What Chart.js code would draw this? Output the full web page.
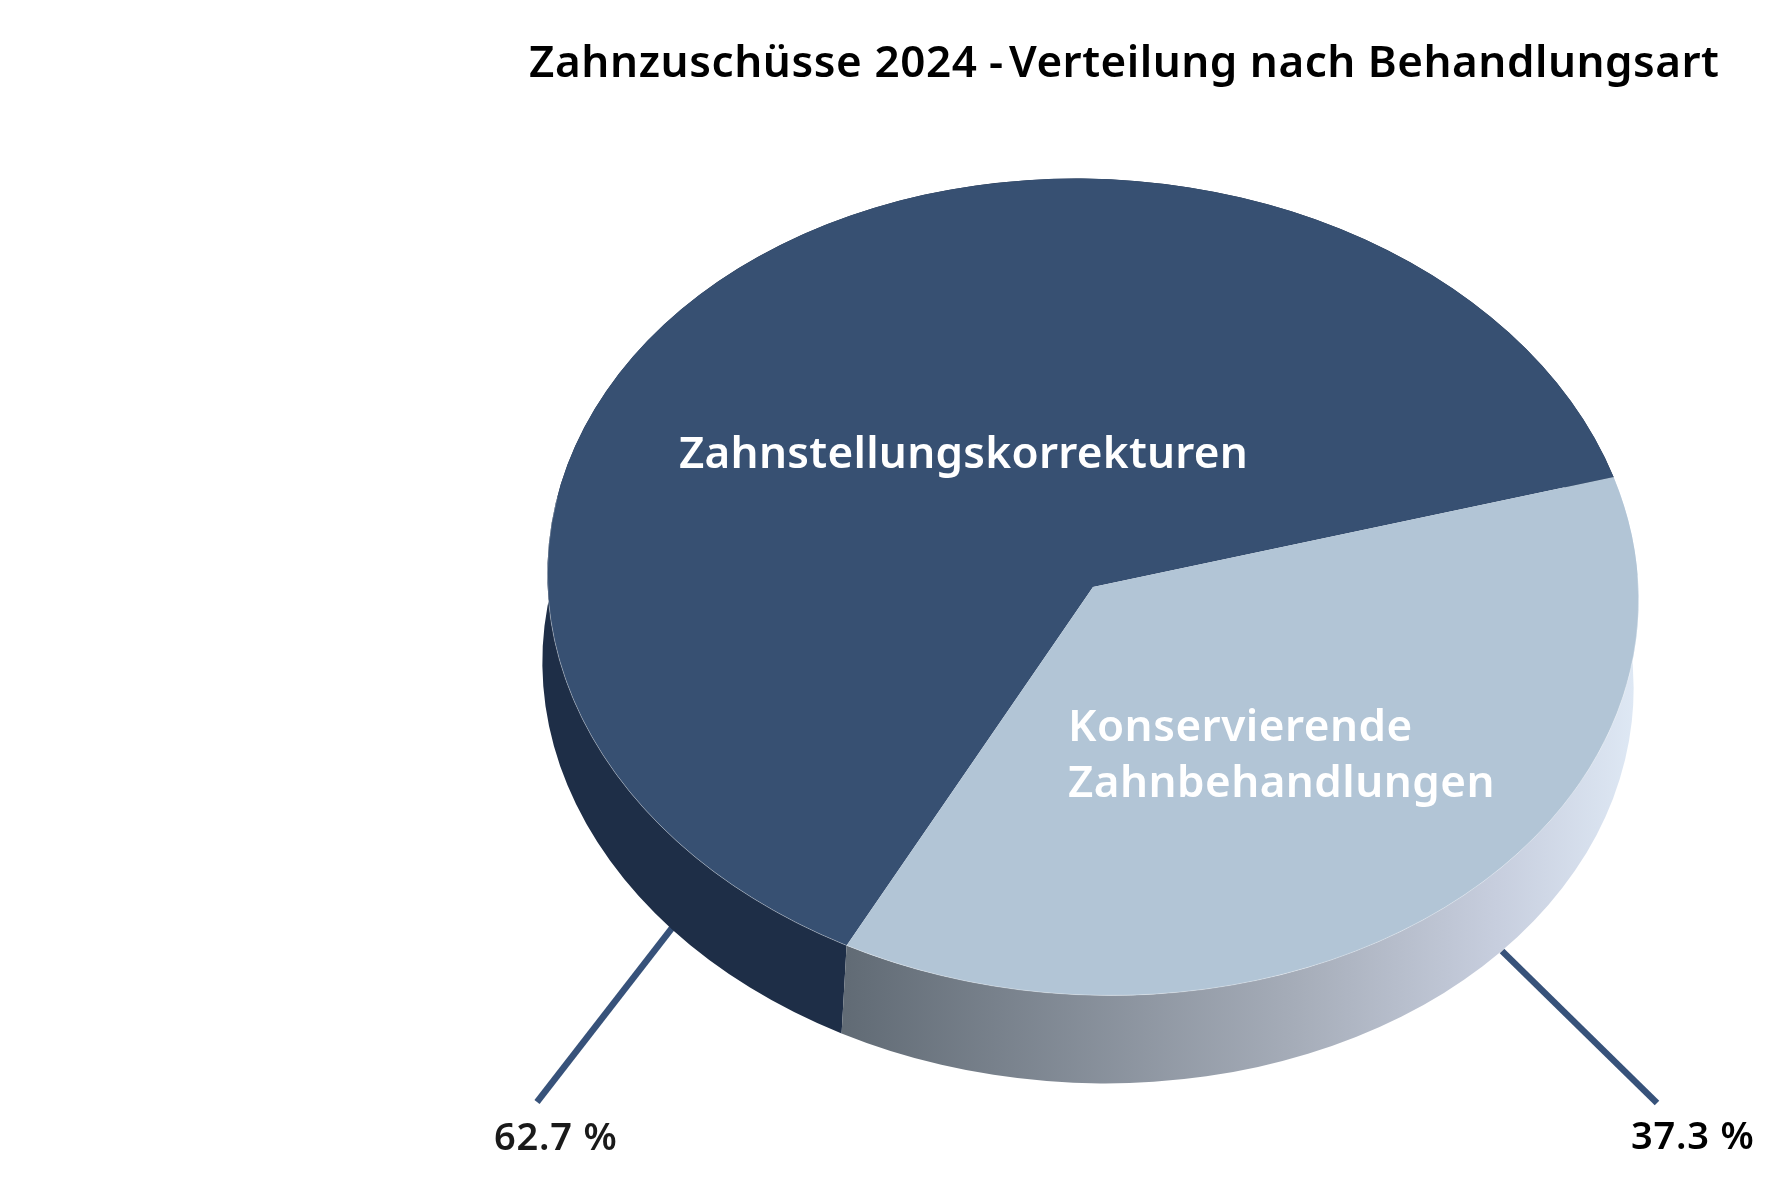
<!DOCTYPE html>
<html><head><meta charset="utf-8">
<style>html,body{margin:0;padding:0;background:#fff}canvas{display:block}</style>
<script src="https://cdn.jsdelivr.net/npm/chart.js@4"></script>
</head><body>
<canvas id="c" width="1780" height="1200" style="width:1780px;height:1200px"></canvas>
<script>
const chartTitle = ["Zahnzuschüsse 2024", "-", "Verteilung nach Behandlungsart"];
const categories = ["Zahnstellungskorrekturen", "Konservierende Zahnbehandlungen"];
const shares = [62.7, 37.3];
const valueLabels = ["62.7 %", "37.3 %"];
const topColors = ["#375072", "#b2c5d6"];

const FONT = '"Noto Sans", sans-serif';
const view = {cx:1093, cy:587, a:546, b:408, tilt:3.07*Math.PI/180, dx:-5, dy:88};
const leaders = [[672,928,537,1102],[1502,951,1657,1103]];

function txt(ctx,s,x,y,weight,size,color,spacing){
  ctx.font = weight+" "+size+"px "+FONT;
  ctx.fillStyle = color;
  ctx.textAlign = "left";
  ctx.textBaseline = "alphabetic";
  ctx.letterSpacing = (spacing||0)+"px";
  ctx.fillText(s,x,y);
}
const pie3d = {
  id:"pie3d",
  beforeDatasetsDraw(chart){
    const ctx = chart.ctx, arcs = chart.getDatasetMeta(0).data, v = view;
    ctx.save();
    ctx.strokeStyle = "#37527a"; ctx.lineWidth = 6.5; ctx.lineCap = "butt";
    leaders.forEach(l=>{ctx.beginPath();ctx.moveTo(l[0],l[1]);ctx.lineTo(l[2],l[3]);ctx.stroke();});
    const grad = ctx.createLinearGradient(846,0,1640,0);
    grad.addColorStop(0,"#616b75");
    grad.addColorStop(.57,"#a6adb9");
    grad.addColorStop(.82,"#c7cede");
    grad.addColorStop(1,"#dfe9f5");
    const wallFill = ["#1e2e47",grad];
    arcs.forEach((arc,i)=>{
      ctx.beginPath();
      ctx.ellipse(v.cx,v.cy,v.a,v.b,v.tilt,arc.startAngle,arc.endAngle);
      ctx.ellipse(v.cx+v.dx,v.cy+v.dy,v.a,v.b,v.tilt,arc.endAngle,arc.startAngle,true);
      ctx.closePath();
      ctx.fillStyle = wallFill[i];
      ctx.fill();
    });
    ctx.restore();
    const a = arcs[0], R = a.outerRadius;
    ctx.save();
    ctx.translate(v.cx,v.cy);
    ctx.rotate(v.tilt);
    ctx.scale(v.a/R,v.b/R);
    ctx.translate(-a.x,-a.y);
  },
  afterDatasetsDraw(chart){
    const ctx = chart.ctx, v = view;
    ctx.restore();
    ctx.save();
    ctx.strokeStyle = "rgba(255,255,255,0.3)"; ctx.lineWidth = 1;
    ctx.beginPath();
    ctx.ellipse(v.cx,v.cy,v.a,v.b,v.tilt,-0.1,Math.PI+0.15);
    ctx.stroke();
    ctx.restore();
    txt(ctx,chartTitle[0],529,77,600,44,"#000",0.6);
    txt(ctx,chartTitle[1],989,77,600,44,"#000",0);
    txt(ctx,chartTitle[2],1009,77,600,44,"#000",0.5);
    txt(ctx,categories[0],679,468,600,44,"#fff",0.27);
    txt(ctx,"Konservierende",1068,741,600,44,"#fff",0.5);
    txt(ctx,"Zahnbehandlungen",1068,797,600,44,"#fff",0.44);
    txt(ctx,valueLabels[0],494,1150,600,38,"#1a1a1a",0.8);
    txt(ctx,valueLabels[1],1631,1149,600,38,"#000",0.8);
  }
};
new Chart(document.getElementById("c"),{
  type:"pie",
  data:{labels:categories,datasets:[{data:shares,backgroundColor:topColors,borderWidth:0}]},
  options:{
    responsive:false,animation:false,rotation:204.55,
    layout:{padding:0},
    plugins:{legend:{display:false},tooltip:{enabled:false},title:{display:false}}
  },
  plugins:[pie3d]
});
</script>
</body></html>
